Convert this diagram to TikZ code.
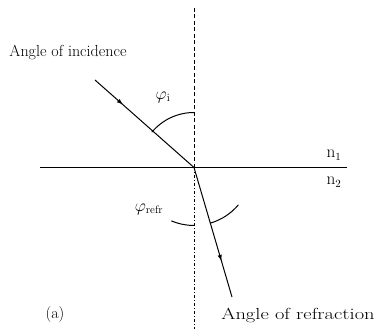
\documentclass[tikz,border=0pt]{standalone}
\usetikzlibrary{decorations.markings}
\begin{document}
\begin{tikzpicture}[x=1pt,y=1pt,
  ray/.style={line width=1pt, postaction={decorate},
    decoration={markings, mark=at position #1 with {\arrow{latex}}}},
  lbl/.style={inner sep=0pt, font=\fontsize{16}{18}\selectfont},
  ang/.style={line width=1pt}]
\useasboundingbox (0,0) rectangle (381,329);
\coordinate (O) at (194,161.5);
\coordinate (vt) at (194,321);
\coordinate (vb) at (194,0);
\coordinate (hl) at (40,161.5);
\coordinate (hr) at (347,161.5);
\coordinate (inc) at (95,249);
\coordinate (ref) at (232,32);
% normal
\draw[line width=0.9pt, dash pattern=on 4pt off 2.5pt] (vt) -- (O);
\draw[line width=0.9pt, dash pattern=on 3pt off 2pt on 1pt off 2pt] (O) -- (vb);
% interface
\draw[line width=1.3pt] (hl) -- (hr);
% rays
\draw[ray=0.28] (inc) -- (O);
\draw[ray=0.72] (O) -- (ref);
% angle arcs
\draw[ang] ([shift={(90:55)}]O) arc[start angle=90, end angle=140, radius=55];
\draw[ang] ([shift={(-113:58)}]O) arc[start angle=-113, end angle=-90, radius=58];
\draw[ang] ([shift={(-74:58)}]O) arc[start angle=-74, end angle=-40, radius=58];
% labels
\node[lbl] (tinc) at (68,277) {Angle of incidence};
\node[lbl] (tref) at (298,14) {\scalebox{1.28}[1]{Angle of refraction}};
\node[lbl] (phii) at (163,232) {$\varphi_{\mathrm{i}}$};
\node[lbl] (phir) at (149,120) {$\varphi_{\mathrm{refr}}$};
\node[lbl] (n1) at (334,174) {$\mathrm{n}_1$};
\node[lbl] (n2) at (334,147) {$\mathrm{n}_2$};
\node[lbl] (a) at (55,14) {(a)};
\end{tikzpicture}
\end{document}
